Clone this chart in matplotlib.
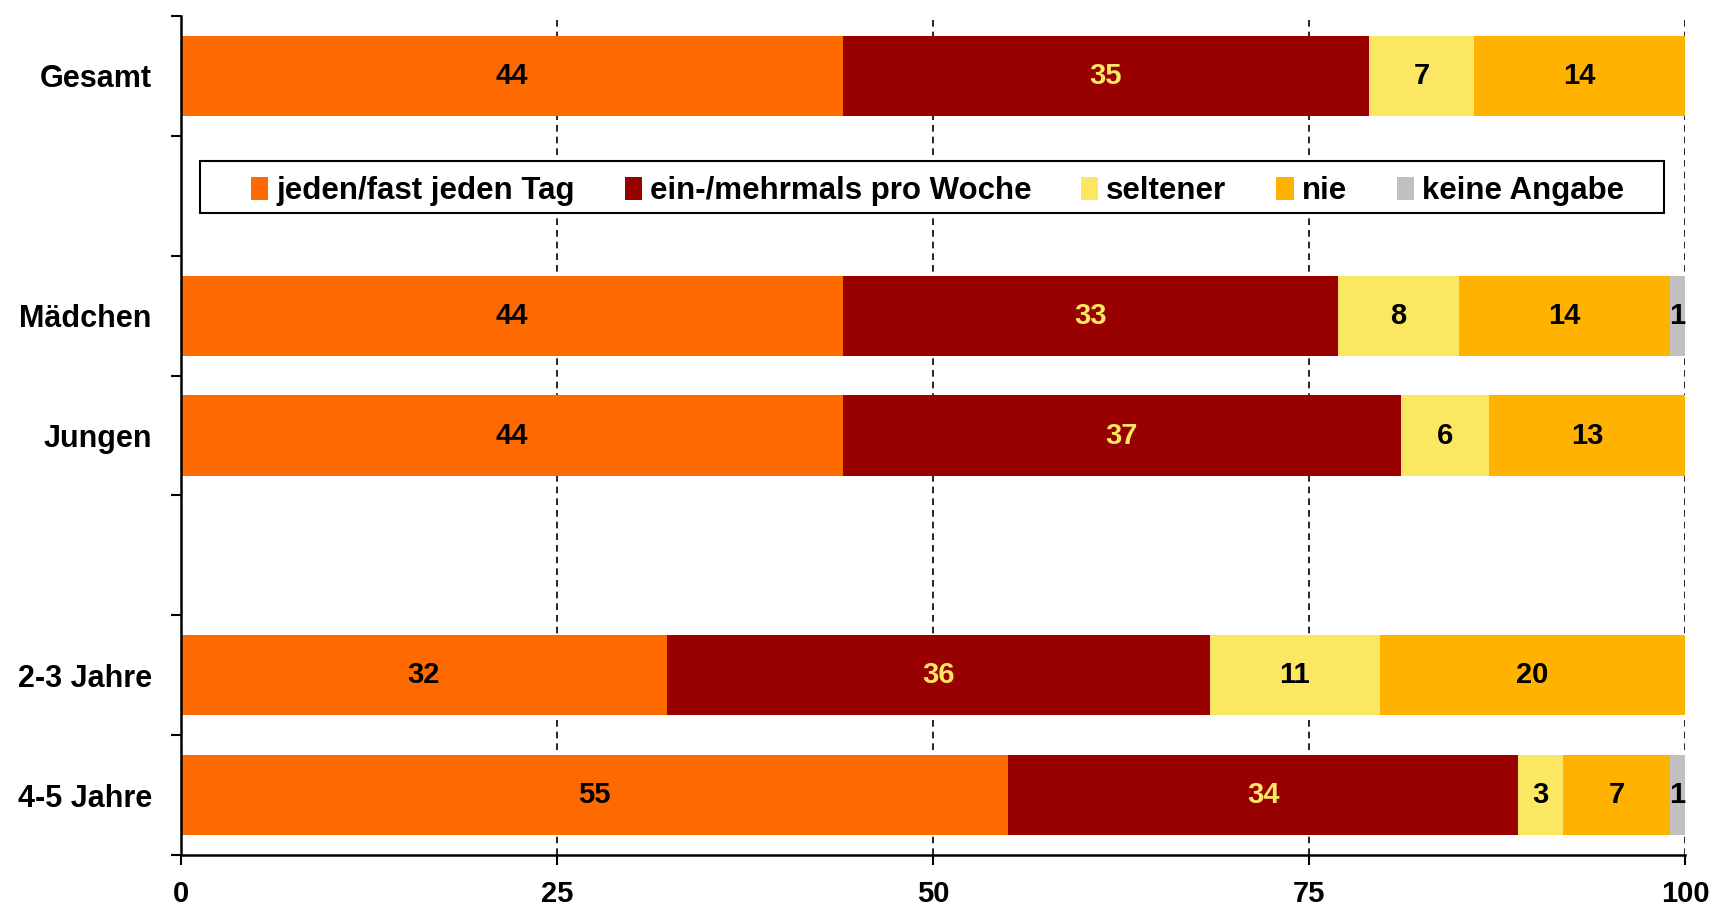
import matplotlib
matplotlib.use('Agg')
import matplotlib.pyplot as plt
from matplotlib.patches import Patch, Rectangle
import numpy as np

plt.rcParams['font.family'] = ['Liberation Sans', 'DejaVu Sans']
plt.rcParams['font.weight'] = 'bold'

# rows top to bottom, '' = empty slot
rows = ['Gesamt', '', 'Mädchen', 'Jungen', '', '2-3 Jahre', '4-5 Jahre']
groups = ['Gesamt', 'Mädchen', 'Jungen', '2-3 Jahre', '4-5 Jahre']

series = ['jeden/fast jeden Tag', 'ein-/mehrmals pro Woche', 'seltener', 'nie', 'keine Angabe']
colors = ['#FF6A00', '#990000', '#FCE762', '#FFB300', '#C0C0C0']
text_colors = ['black', '#FCE762', 'black', 'black', 'black']

# shares per group (percent)
daily = [44.0, 44.0, 44.0, 32.3, 55.0]
weekly = [35.0, 32.9, 37.1, 36.1, 33.9]
rarely = [7.0, 8.1, 5.9, 11.3, 3.0]
never = [14.0, 14.0, 13.0, 20.3, 7.1]
no_answer = [0.0, 1.0, 0.0, 0.0, 1.0]
values = [daily, weekly, rarely, never, no_answer]

# printed labels
labels = [
    [44, 44, 44, 32, 55],
    [35, 33, 37, 36, 34],
    [7, 8, 6, 11, 3],
    [14, 14, 13, 20, 7],
    [0, 1, 0, 0, 1],
]

fig = plt.figure(figsize=(17.19, 9.07), dpi=100)
ax = fig.add_axes([0.1053, 0.0573, 0.8749, 0.925])

ypos = [rows.index(g) for g in groups]
left = np.zeros(len(groups))
for s, vals in enumerate(values):
    vals = np.array(vals)
    ax.barh(ypos, vals, left=left, height=0.67, color=colors[s], zorder=2)
    for i, v in enumerate(vals):
        if labels[s][i] > 0:
            ax.text(left[i] + v / 2, ypos[i], str(labels[s][i]), ha='center', va='center',
                    fontsize=21, fontweight='bold', color=text_colors[s], zorder=3)
    left += vals

ax.set_xlim(0, 100)
ax.set_ylim(len(rows) - 0.5, -0.5)
ax.set_xticks([0, 25, 50, 75, 100])
ax.tick_params(axis='x', labelsize=21, length=7, width=1.5, direction='out', pad=11)
for t in ax.get_xticklabels():
    t.set_fontweight('bold')
ax.xaxis.grid(True, linestyle=(0, (4, 3)), color='black', linewidth=1.2, zorder=0)
ax.set_axisbelow(True)

# tick marks at slot boundaries, labels at slot centres
ax.set_yticks(np.arange(-0.5, len(rows), 1.0))
ax.set_yticklabels([])
ax.tick_params(axis='y', which='major', length=7, width=1.5, direction='out')
ax.set_yticks(range(len(rows)), minor=True)
ax.set_yticklabels(rows, minor=True)
ax.tick_params(axis='y', which='minor', length=0, labelsize=22, pad=21)
for t in ax.get_yticklabels(minor=True):
    t.set_fontweight('bold')

for side in ['top', 'right']:
    ax.spines[side].set_visible(False)
for side in ['left', 'bottom']:
    ax.spines[side].set_linewidth(1.8)

# legend box is wider than its entries, so draw the frame separately
ax.add_patch(Rectangle((0.0124, 0.7647), 0.9738, 0.0628, transform=ax.transAxes,
                       facecolor='white', edgecolor='black', linewidth=1.5, zorder=4))
handles = [Patch(facecolor=c, edgecolor='none') for c in colors]
leg = ax.legend(handles, series, loc='center', bbox_to_anchor=(0.503, 0.791),
                ncol=5, frameon=False,
                handlelength=0.55, handleheight=0.8, handletextpad=0.25, columnspacing=1.6,
                borderpad=0.35, prop={'weight': 'bold', 'size': 22.5})
leg.set_zorder(5)

fig.savefig('out.png', dpi=100)
